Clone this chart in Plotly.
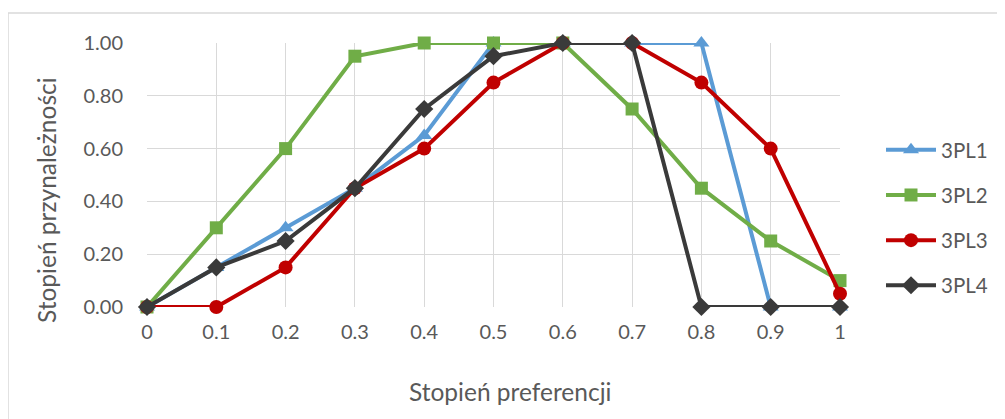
import plotly.graph_objects as go

x_vals = [0, 0.1, 0.2, 0.3, 0.4, 0.5, 0.6, 0.7, 0.8, 0.9, 1.0]
x_labels = ["0", "0.1", "0.2", "0.3", "0.4", "0.5", "0.6", "0.7", "0.8", "0.9", "1"]
pl1 = [0, 0.15, 0.30, 0.45, 0.65, 1.00, 1.00, 1.00, 1.00, 0, 0]
pl2 = [0, 0.30, 0.60, 0.95, 1.00, 1.00, 1.00, 0.75, 0.45, 0.25, 0.10]
pl3 = [0, 0, 0.15, 0.45, 0.60, 0.85, 1.00, 1.00, 0.85, 0.60, 0.05]
pl4 = [0, 0.15, 0.25, 0.45, 0.75, 0.95, 1.00, 1.00, 0, 0, 0]
y_ticks = [0, 0.2, 0.4, 0.6, 0.8, 1.0]
x_title = "Stopień preferencji"
y_title = "Stopień przynależności"

series = [
    ("3PL1", pl1, "#5B9BD5", "triangle-up", 14),
    ("3PL2", pl2, "#70AD47", "square", 13),
    ("3PL3", pl3, "#C00000", "circle", 14),
    ("3PL4", pl4, "#3A3A3A", "diamond", 14),
]

fig = go.Figure()
for name, ys, col, sym, sz in series:
    fig.add_trace(go.Scatter(
        x=x_vals, y=ys, name=name, mode="lines+markers",
        line=dict(color=col, width=4),
        marker=dict(symbol=sym, size=sz, color=col),
        cliponaxis=False, legendgroup=name,
    ))

font_family = "Lato, 'Open Sans', sans-serif"
TXT = "#595959"
# page offset of ~7px is compensated in margins
OFF = 7
L, R, T, B = 146 - OFF, 166 + OFF, 42 - OFF, 113 + OFF
W, H = 1005, 419
pw, ph = W - L - R, H - T - B
y0px = 306 - OFF


def px_x(p):
    return (p - OFF - L) / pw


def px_y(p):
    return (y0px - (p - OFF)) / ph


fig.update_layout(
    width=W, height=H,
    margin=dict(l=L, r=R, t=T, b=B),
    paper_bgcolor="white", plot_bgcolor="white",
    font=dict(family=font_family, size=20, color=TXT),
    showlegend=True,
    legend=dict(
        x=px_x(880), y=px_y(129), xanchor="left", yanchor="top",
        traceorder="grouped", tracegroupgap=15.5, itemwidth=50,
        font=dict(size=20.5, color=TXT),
        bgcolor="rgba(0,0,0,0)",
    ),
    xaxis=dict(
        range=[0, 1], tickvals=x_vals, ticktext=x_labels,
        showgrid=True, gridcolor="#D9D9D9", gridwidth=1,
        zeroline=False, showline=False, ticks="",
        ticklabelstandoff=11,
    ),
    yaxis=dict(
        range=[0, 1], tickvals=y_ticks, tickformat=".2f",
        showgrid=True, gridcolor="#D9D9D9", gridwidth=1,
        zeroline=False, showline=False, ticks="",
        ticklabelstandoff=23,
    ),
    annotations=[
        dict(text=x_title, xref="paper", yref="paper",
             x=px_x(509), y=px_y(390), xanchor="center", yanchor="middle",
             showarrow=False, font=dict(size=24.5, color=TXT)),
        dict(text=y_title, xref="paper", yref="paper", textangle=-90,
             x=px_x(45), y=px_y(199), xanchor="center", yanchor="middle",
             showarrow=False, font=dict(size=24.5, color=TXT)),
    ],
    shapes=[dict(
        type="rect", xref="paper", yref="paper",
        x0=px_x(7), x1=px_x(1020),
        y0=px_y(440), y1=px_y(12),
        line=dict(color="#D9D9D9", width=1.5), fillcolor="rgba(0,0,0,0)",
        layer="below",
    )],
)

fig.write_html("out.html")
